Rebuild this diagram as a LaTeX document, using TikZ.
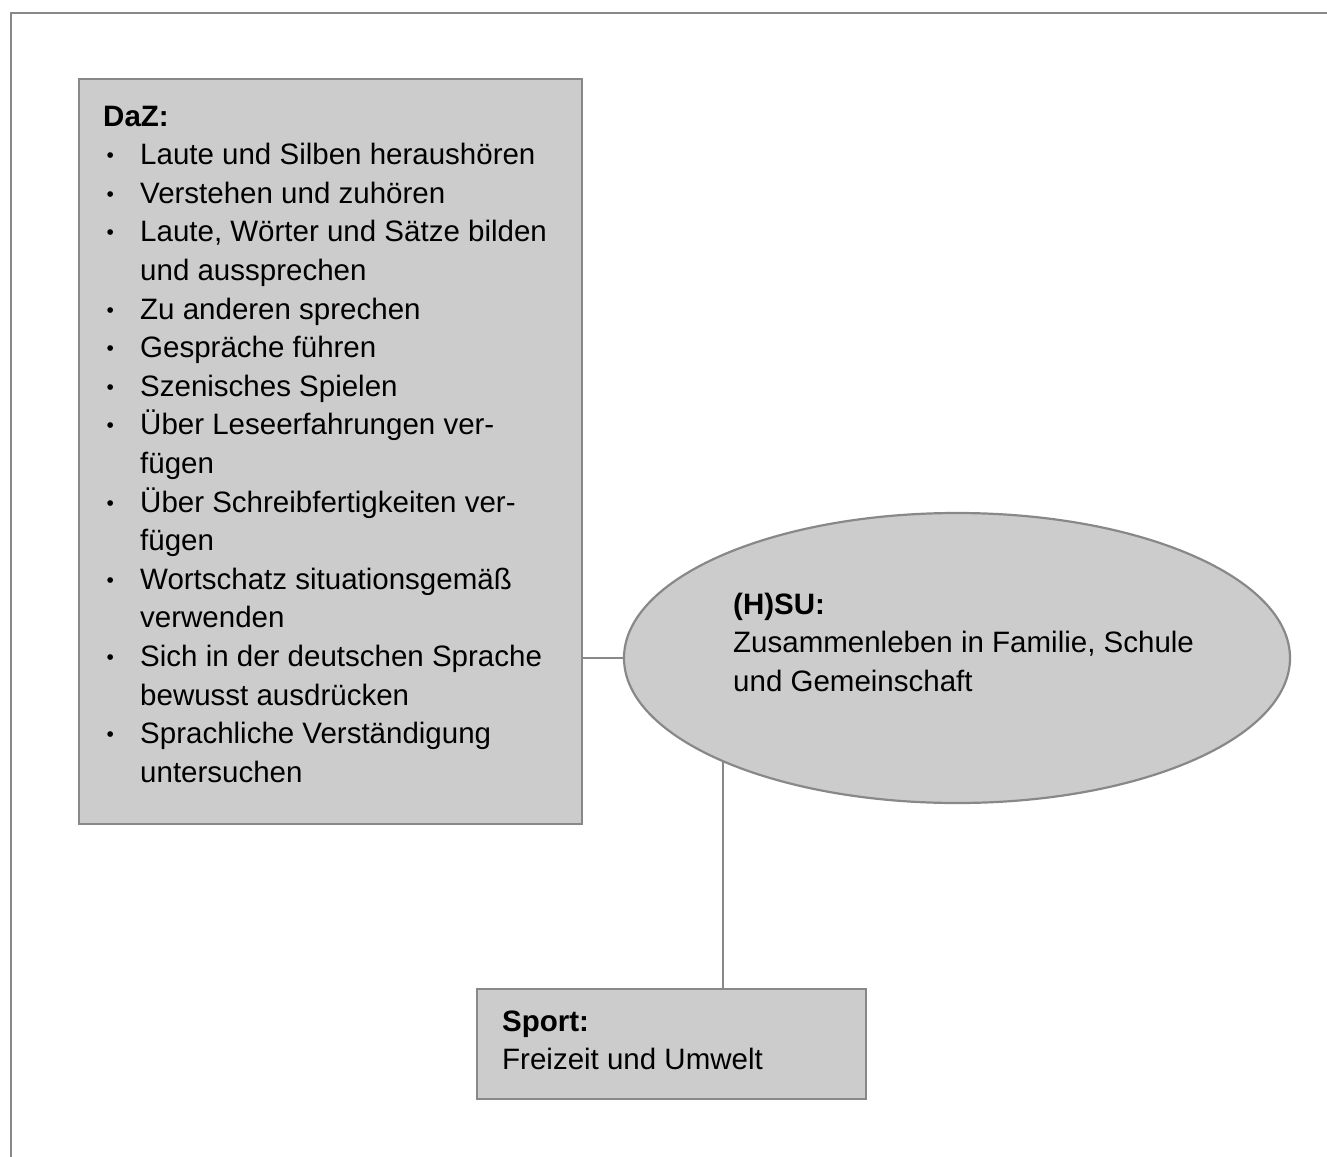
\documentclass[tikz,border=0pt]{standalone}
\usepackage{fontspec}
\setmainfont{Liberation Sans}
\usetikzlibrary{shapes.geometric}
\definecolor{boxfill}{HTML}{CCCCCC}
\definecolor{boxline}{HTML}{888888}
\newcommand{\bul}{\makebox[37pt][l]{\hspace{3.5pt}\raisebox{2pt}{\fontsize{21}{21}\selectfont\textbullet}}}
\begin{document}
\begin{tikzpicture}[x=1pt,y=-1pt,
  frame/.style={draw=boxline,line width=2.2pt},
  boxnode/.style={draw=boxline,fill=boxfill,line width=2.2pt,rectangle,inner sep=0pt,anchor=north west},
  ovalnode/.style={draw=boxline,fill=boxfill,line width=2.2pt,ellipse,inner sep=0pt},
  txt/.style={anchor=base west,inner sep=0pt,font=\fontsize{29.5}{38.6}\selectfont},
  conn/.style={draw=boxline,line width=2.2pt}]
\useasboundingbox (0,0) rectangle (1327,1156);
\draw[frame] (11,1160) -- (11,13) -- (1330,13);
\node[boxnode,minimum width=503pt,minimum height=745pt] (daz) at (78,78) {};
\node[ovalnode,minimum width=666pt,minimum height=290pt] (hsu) at (957,658) {};
\node[boxnode,minimum width=389pt,minimum height=110pt] (sport) at (476,988) {};
\draw[conn] (hsu.west -| daz.east) -- (hsu.west);
\draw[conn] (hsu.-156.7) -- (hsu.-156.7 |- sport.north);
\node[txt] (dazt) at (103,126) {\begin{tabular}[t]{@{}l@{}l@{}}
\multicolumn{2}{@{}l@{}}{\textbf{DaZ:}}\\
\bul & Laute und Silben heraushören\\
\bul & Verstehen und zuhören\\
\bul & Laute, Wörter und Sätze bilden\\
 & und aussprechen\\
\bul & Zu anderen sprechen\\
\bul & Gespräche führen\\
\bul & Szenisches Spielen\\
\bul & Über Leseerfahrungen ver-\\
 & fügen\\
\bul & Über Schreibfertigkeiten ver-\\
 & fügen\\
\bul & Wortschatz situationsgemäß\\
 & verwenden\\
\bul & Sich in der deutschen Sprache\\
 & bewusst ausdrücken\\
\bul & Sprachliche Verständigung\\
 & untersuchen
\end{tabular}};
\node[txt] (hsut) at (733,614) {\begin{tabular}[t]{@{}l@{}}
\textbf{(H)SU:}\\
Zusammenleben in Familie, Schule\\
und Gemeinschaft
\end{tabular}};
\node[txt] (sportt) at (502,1031) {\begin{tabular}[t]{@{}l@{}}
\textbf{Sport:}\\
Freizeit und Umwelt
\end{tabular}};
\end{tikzpicture}
\end{document}
